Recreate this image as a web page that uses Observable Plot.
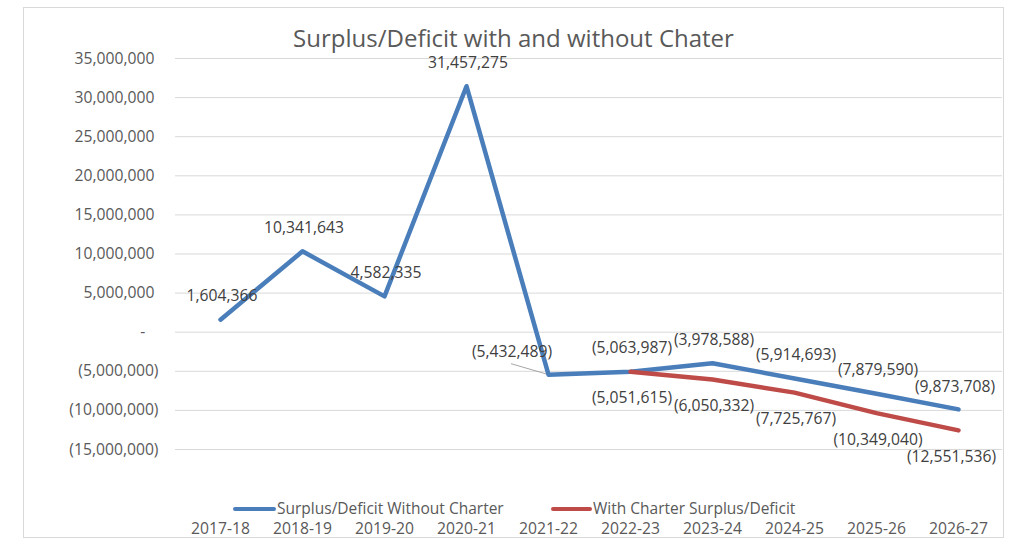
<!DOCTYPE html>
<html>
<head>
<meta charset="utf-8">
<script src="https://cdn.jsdelivr.net/npm/d3@7"></script>
<script src="https://cdn.jsdelivr.net/npm/@observablehq/plot@0.6"></script>
<style>
  html, body { margin: 0; padding: 0; background: #fff; }
  #wrap { position: relative; width: 1016px; height: 539px; overflow: hidden; font-family: "Open Sans", sans-serif; }
  #border { position: absolute; left: 23px; top: 7px; width: 981px; height: 531px; box-sizing: border-box; border: 1px solid #d9d9d9; pointer-events: none; }
  #title { position: absolute; left: 23px; width: 981px; top: 28px; text-align: center; font-size: 24px; line-height: 20px; color: #595959; white-space: nowrap; }
  .leg { position: absolute; top: 501px; display: flex; align-items: center; font-size: 15.5px; line-height: 15.5px; color: #595959; white-space: nowrap; }
  .sw { display: inline-block; height: 4.5px; border-radius: 2px; margin-right: 1px; }
  #chart { position: absolute; left: 0; top: 0; }
</style>
</head>
<body>
<div id="wrap">
  <div id="chart"></div>
  <div id="border"></div>
  <div id="title"></div>
  <div id="legend"></div>
</div>
<script>
// ---- data ----
const title = "Surplus/Deficit with and without Chater";
const years = ["2017-18","2018-19","2019-20","2020-21","2021-22","2022-23","2023-24","2024-25","2025-26","2026-27"];
const withoutCharter = [1604366, 10341643, 4582335, 31457275, -5432489, -5063987, -3978588, -5914693, -7879590, -9873708];
const withCharter = [null, null, null, null, null, -5051615, -6050332, -7725767, -10349040, -12551536];
const seriesNames = ["Surplus/Deficit Without Charter", "With Charter Surplus/Deficit"];
const yTicks = [-15000000, -10000000, -5000000, 0, 5000000, 10000000, 15000000, 20000000, 25000000, 30000000, 35000000];

const colors = ["#4a7ebb", "#be4b48"];

const rowsA = years.map((yr, i) => ({year: yr, value: withoutCharter[i]}));
const rowsB = years.map((yr, i) => ({year: yr, value: withCharter[i]})).filter(d => d.value != null);

const num = d3.format(",");
const fmtLabel = v => v < 0 ? `(${num(-v)})` : num(v);
const fmtAxis = v => v === 0 ? "-\u2007\u2008" : (v < 0 ? `(${num(-v)})` : num(v) + "\u2008");

// label placement (pixels) – default above for series A, below for series B
const shiftA = {"2021-22": [-36.5, -22.5], "2026-27": [-3.5, -22.5]};
const shiftB = {"2026-27": [-7, 26.5]};

const labelMarks = [
  ...rowsA.map(d => {
    const [dx, dy] = shiftA[d.year] || [1.5, -23.5];
    return Plot.text([d], {x: "year", y: "value", text: dd => fmtLabel(dd.value), dx, dy, fill: "#404040", fontSize: 15.7});
  }),
  ...rowsB.map(d => {
    const [dx, dy] = shiftB[d.year] || [1.5, 26.5];
    return Plot.text([d], {x: "year", y: "value", text: dd => fmtLabel(dd.value), dx, dy, fill: "#404040", fontSize: 15.7});
  })
];

// leader line for displaced label
const leaderRow = rowsA.find(d => d.year === "2021-22");
function leader(index, scales) {
  const px = scales.x(leaderRow.year), py = scales.y(leaderRow.value);
  const g = d3.create("svg:g");
  g.append("line")
    .attr("x1", px - 37).attr("y1", py - 10.5)
    .attr("x2", px - 1).attr("y2", py)
    .attr("stroke", "#a6a6a6").attr("stroke-width", 1);
  return g.node();
}

const chart = Plot.plot({
  width: 1016,
  height: 539,
  marginLeft: 175,
  marginRight: 14,
  marginTop: 58,
  marginBottom: 90,
  style: {fontFamily: "Open Sans, sans-serif", fontSize: "15.7px", color: "#595959", background: "transparent"},
  x: {type: "point", domain: years, padding: 0.5, label: null},
  y: {domain: [-15000000, 35000000], label: null},
  marks: [
    Plot.gridY(yTicks, {stroke: "#d9d9d9", strokeOpacity: 1, strokeWidth: 1}),
    Plot.axisY(yTicks, {tickSize: 0, tickPadding: 17, tickFormat: fmtAxis, fontSize: 15.7, label: null}),
    Plot.axisX({tickSize: 0, tickPadding: 73.5, fontSize: 15.7, label: null}),
    leader,
    Plot.line(rowsA, {x: "year", y: "value", stroke: colors[0], strokeWidth: 4.5, strokeLinejoin: "round", strokeLinecap: "round"}),
    Plot.line(rowsB, {x: "year", y: "value", stroke: colors[1], strokeWidth: 4.5, strokeLinejoin: "round", strokeLinecap: "round"}),
    ...labelMarks
  ]
});
document.getElementById("chart").appendChild(chart);

document.getElementById("title").textContent = title;

// legend
const legend = document.getElementById("legend");
const legendLeft = [233, 551];
const swatchW = [43, 41];
seriesNames.forEach((name, i) => {
  const item = document.createElement("div");
  item.className = "leg";
  item.style.left = legendLeft[i] + "px";
  const sw = document.createElement("span");
  sw.className = "sw";
  sw.style.width = swatchW[i] + "px";
  sw.style.background = colors[i];
  const tx = document.createElement("span");
  tx.textContent = name;
  item.appendChild(sw);
  item.appendChild(tx);
  legend.appendChild(item);
});
</script>
</body>
</html>
